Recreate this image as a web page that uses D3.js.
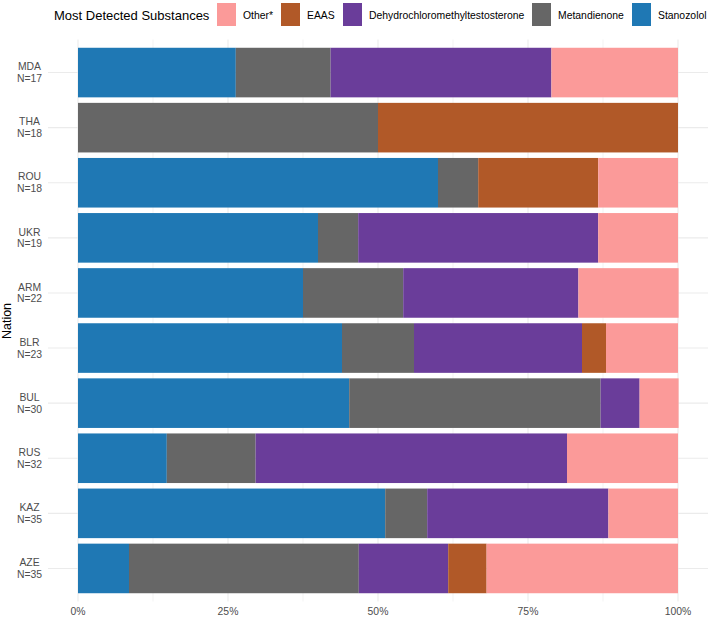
<!DOCTYPE html>
<html><head><meta charset="utf-8">
<script src="https://cdn.jsdelivr.net/npm/d3@7"></script>
<style>body{margin:0;background:#fff;font-family:"Liberation Sans",Arial,sans-serif;}</style>
</head><body><svg id="c" width="709" height="617"></svg>
<script>
const nations = ["MDA","THA","ROU","UKR","ARM","BLR","BUL","RUS","KAZ","AZE"];
const sampleN = [17,18,18,19,22,23,30,32,35,35];
const substances = ["Stanozolol","Metandienone","Dehydrochloromethyltestosterone","EAAS","Other*"];
const legendOrder = ["Other*","EAAS","Dehydrochloromethyltestosterone","Metandienone","Stanozolol"];
const colors = ["#1f78b4","#666666","#6a3d9a","#b15928","#fb9a99"];
// percent shares per nation, in substance order
const stanozolol   = [26.3, 0,  60.0, 40.0, 37.5, 44, 45.2, 14.8, 51.2, 8.5];
const metandienone = [15.8, 50, 6.7,  6.7,  16.7, 12, 41.9, 14.8, 7.0, 38.3];
const dehydro      = [36.8, 0,  0,    40.0, 29.2, 28, 6.5,  51.9, 30.2, 14.9];
const eaas         = [0,    50, 20.0, 0,    0,    4,  0,    0,    0,    6.4];
const other        = [21.1, 0,  13.3, 13.3, 16.7, 12, 6.5,  18.5, 11.6, 31.9];
const xTicks = [0,25,50,75,100];
const xTickLabels = ["0%","25%","50%","75%","100%"];

const series = [stanozolol, metandienone, dehydro, eaas, other];
const rows = nations.map((n,i)=>{const r={nation:n};substances.forEach((s,j)=>r[s]=series[j][i]);return r;});
const stacked = d3.stack().keys(substances)(rows);
const color = d3.scaleOrdinal().domain(substances).range(colors);

const svg = d3.select("#c");
const x = d3.scaleLinear().domain([0,100]).range([78,678]);
const y = d3.scaleBand().domain(nations).range([39.5,601.5]).paddingInner(0.1).paddingOuter(0.15);
const panelL = 48, panelR = 708, panelT = 39.5, panelB = 601.5;

// grid
const g = svg.append("g");
d3.range(0,101,12.5).forEach(v=>{
  const major = v%25===0;
  g.append("line").attr("x1",x(v)).attr("x2",x(v)).attr("y1",panelT).attr("y2",panelB)
   .attr("stroke","#ebebeb").attr("stroke-width",major?1.07:0.53);
});
nations.forEach(n=>{
  const cy = y(n)+y.bandwidth()/2;
  g.append("line").attr("x1",panelL).attr("x2",panelR).attr("y1",cy).attr("y2",cy)
   .attr("stroke","#ebebeb").attr("stroke-width",1.07);
});

// bars
svg.append("g").selectAll("g").data(stacked).join("g").attr("fill",d=>color(d.key))
  .selectAll("rect").data(d=>d).join("rect")
  .attr("x",d=>x(d[0])).attr("width",d=>x(d[1])-x(d[0]))
  .attr("y",d=>y(d.data.nation)).attr("height",y.bandwidth());

// x axis labels
svg.append("g").selectAll("text").data(xTicks).join("text")
  .attr("x",d=>x(d)).attr("y",614.5).attr("text-anchor","middle")
  .attr("font-size",10.4).attr("fill","#4d4d4d").text((d,i)=>xTickLabels[i]);

// y axis labels
const yl = svg.append("g").selectAll("text").data(nations).join("text")
  .attr("text-anchor","middle").attr("font-size",10.4).attr("fill","#4d4d4d");
yl.append("tspan").attr("x",29.5).attr("y",n=>y(n)+y.bandwidth()/2-2.3).text(n=>n);
yl.append("tspan").attr("x",29.5).attr("y",(n)=>y(n)+y.bandwidth()/2+9.5).text((n,i)=>"N="+sampleN[i]);

// axis title
svg.append("text").attr("transform","translate(10.5,321) rotate(-90)").attr("text-anchor","middle")
  .attr("font-size",12.5).attr("fill","#000").text("Nation");

// legend
svg.append("text").attr("x",54).attr("y",19.5).attr("font-size",13).attr("fill","#000").text("Most Detected Substances");
const keyX = [217,281,343,532,632];
legendOrder.forEach((s,i)=>{
  svg.append("rect").attr("x",keyX[i]).attr("y",3).attr("width",19).attr("height",23).attr("fill",color(s));
  svg.append("text").attr("x",keyX[i]+26).attr("y",18.5).attr("font-size",10.4).attr("fill","#000").text(s);
});
</script></body></html>
